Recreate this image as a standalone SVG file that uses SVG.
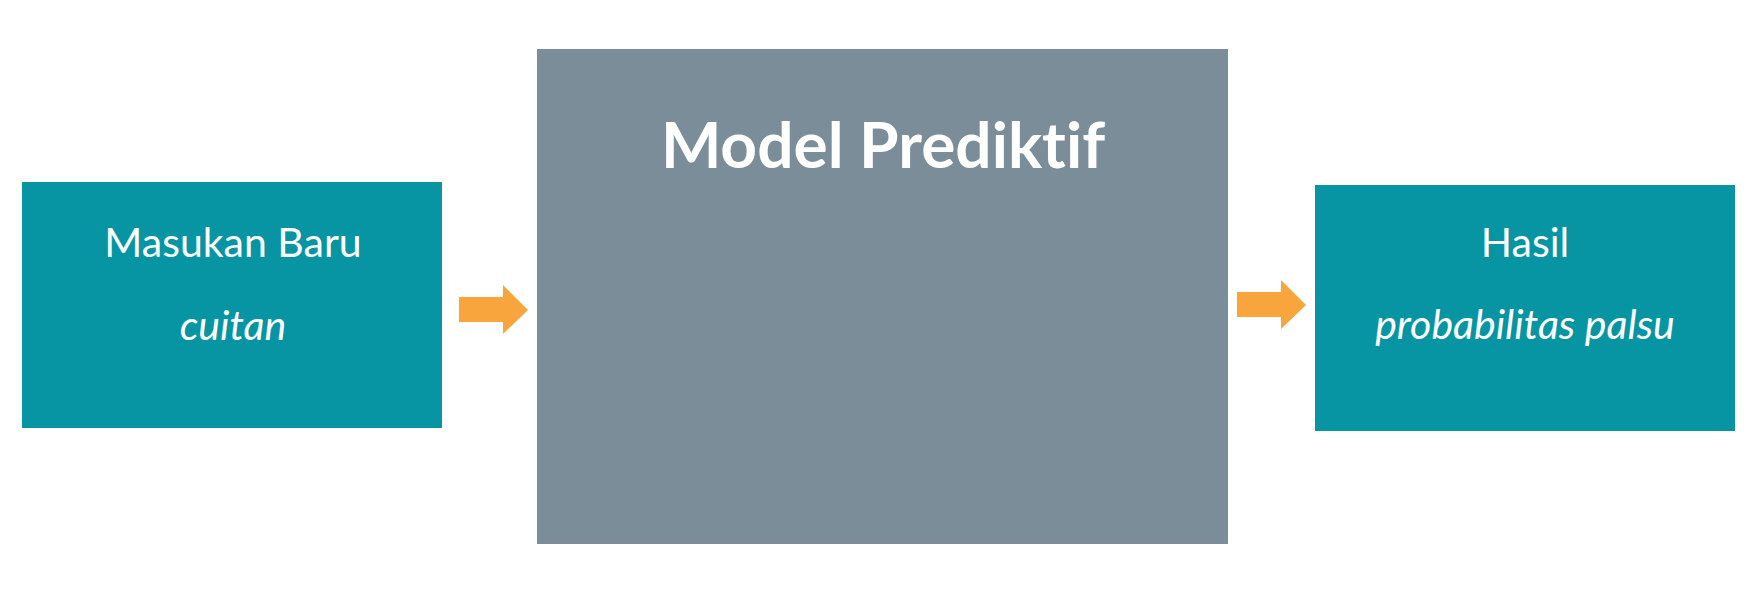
<svg xmlns="http://www.w3.org/2000/svg" width="1757" height="592" viewBox="0 0 1757 592">
<style>
.teal{fill:#0795a3}
.gray{fill:#7a8d98}
.t{font-family:Lato,"Open Sans","Liberation Sans",sans-serif;fill:#ffffff;text-anchor:middle;font-variant-ligatures:none}
.lbl{font-size:41px}
.it{font-size:41px;font-style:italic}
.title{font-size:64px;font-weight:bold}
.arrow{fill:#f9a53e}
</style>
<rect width="1757" height="592" fill="#ffffff"/>
<g id="node-input">
<rect class="teal" x="22" y="182" width="420" height="246"/>
<text class="t lbl" x="233" y="257">Masukan Baru</text>
<text class="t it" x="233" y="340">cuitan</text>
</g>
<g id="node-model">
<rect class="gray" x="537" y="49" width="691" height="495"/>
<text class="t title" x="883" y="168">Model Prediktif</text>
</g>
<g id="node-output">
<rect class="teal" x="1315" y="185" width="420" height="246"/>
<text class="t lbl" x="1525" y="257">Hasil</text>
<text class="t it" x="1525" y="339">probabilitas palsu</text>
</g>
<g id="connectors">
<polygon class="arrow" points="459,297 503,297 503,285 528,310 503,334 503,322 459,322"/>
<polygon class="arrow" points="1237,292 1281,292 1281,280 1306,305 1281,329 1281,317 1237,317"/>
</g>
</svg>
